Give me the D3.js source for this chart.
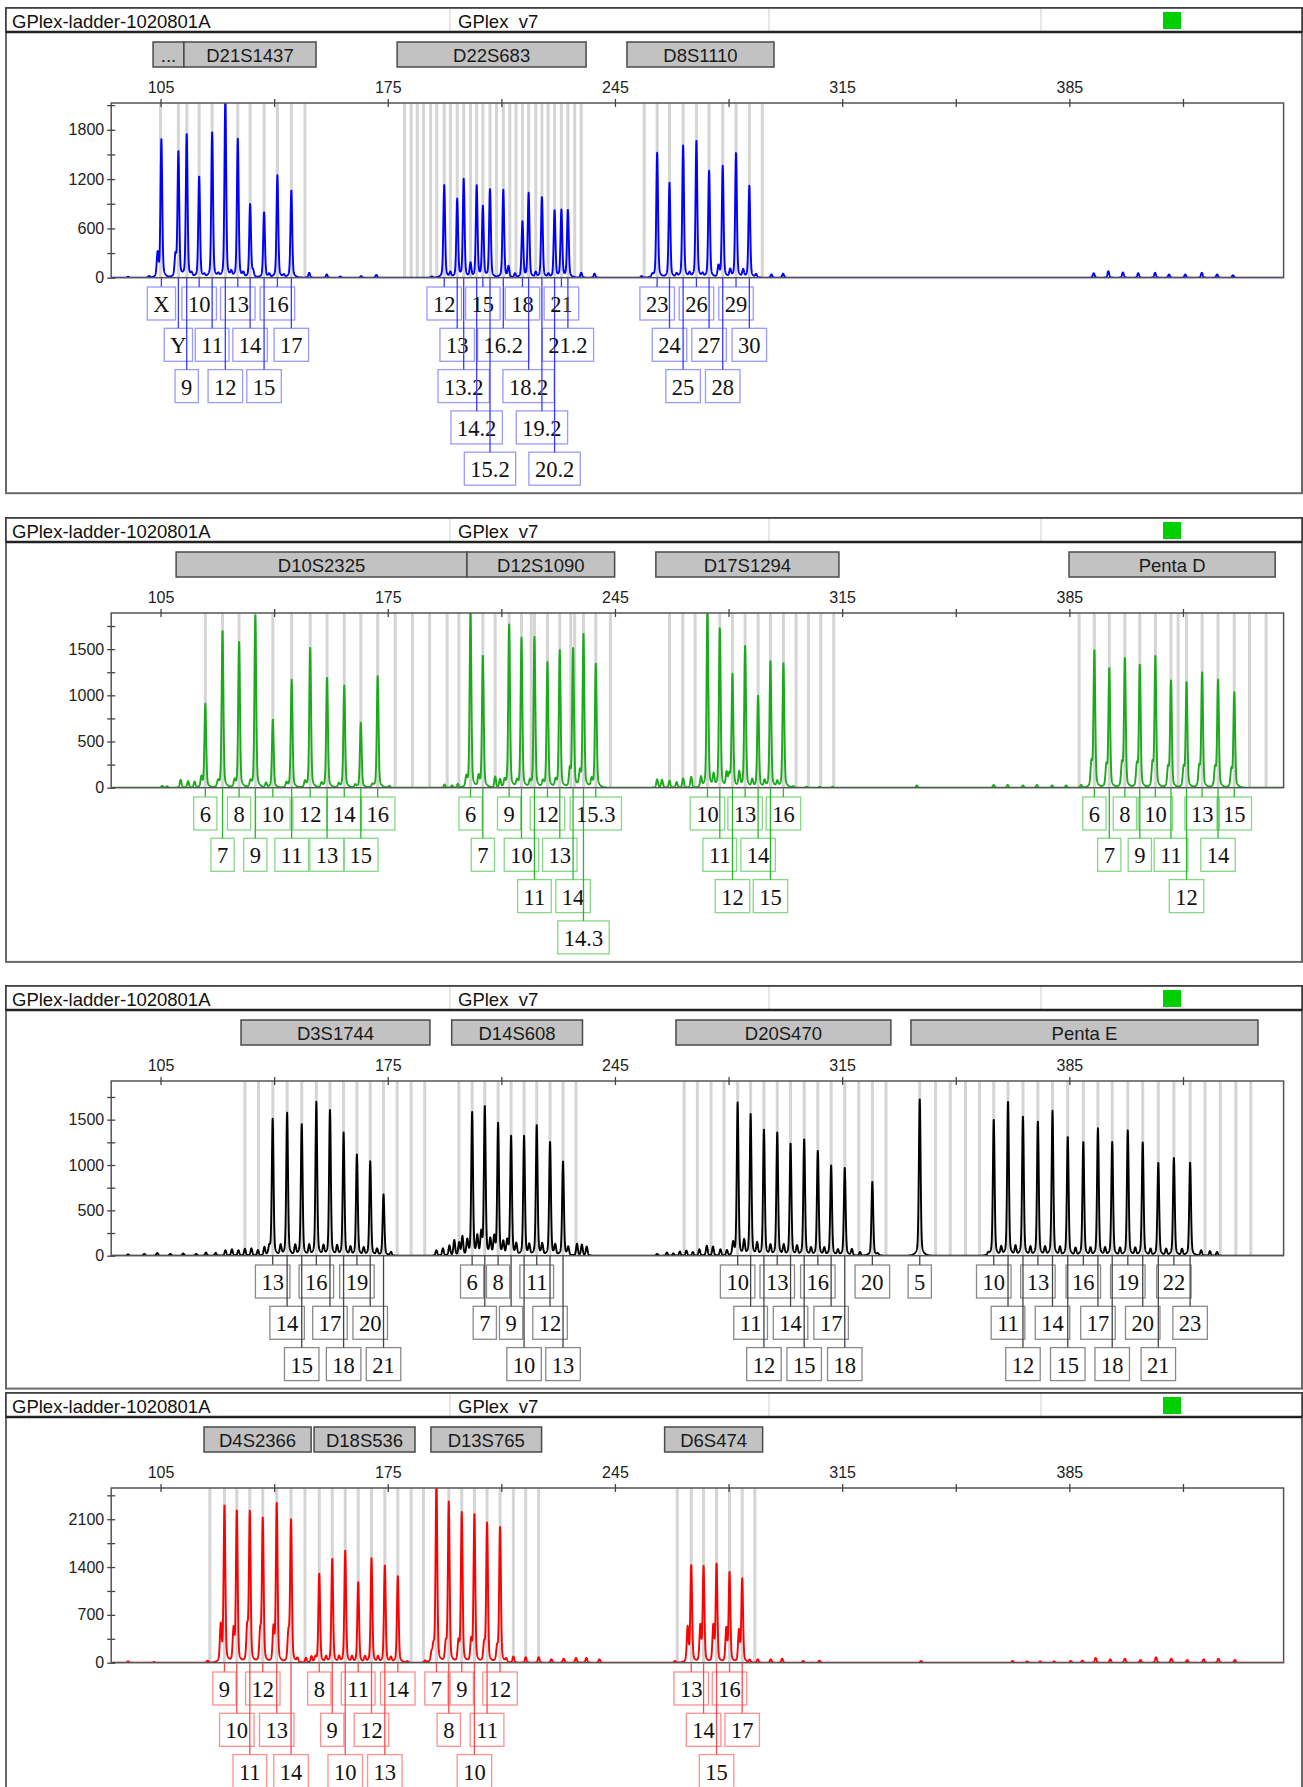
<!DOCTYPE html>
<html><head><meta charset="utf-8">
<script src="https://cdn.jsdelivr.net/npm/d3@7"></script>
<style>body{margin:0;background:#fff}svg{display:block}</style>
</head><body><svg id="c" width="1303" height="1787"></svg>
<script>
// ---------------- DATA ----------------
const sampleName = "GPlex-ladder-1020801A";
const panelName = "GPlex_v7";
const xDomain = [89.8, 451];
const xTickValues = [105,140,175,210,245,280,315,350,385,420];
const xTickLabels = [105,175,245,315,385];

const yMaxes = [2126, 1891, 1926, 2557];
const yMajorSteps = [600, 500, 500, 700];

// markers: [name, startBp, endBp]
const markers1 = [["...",102.7,112.2],["D21S1437",112.2,152.9],["D22S683",177.9,236.1],["D8S1110",248.7,294.0]];
const markers2 = [["D10S2325",109.8,199.4],["D12S1090",199.4,244.9],["D17S1294",257.6,314.0],["Penta D",384.9,448.4]];
const markers3 = [["D3S1744",129.8,188.0],["D14S608",194.7,235.0],["D20S470",263.8,330.0],["Penta E",336.2,443.1]];
const markers4 = [["D4S2366",118.4,151.4],["D18S536",152.3,183.4],["D13S765",188.3,222.4],["D6S474",260.3,290.5]];

// bins (bp)
const bins1 = [105,110.5,113.1,116.9,120.9,125,128.8,132.6,136.9,141,145.3,149.5,
 180.2,182.2,184.1,186.0,188.2,190.1,192.4,194.3,196.4,198.4,200.5,202.4,204.3,206.5,208.5,210.6,212.6,214.5,216.5,218.4,220.6,222.5,224.4,226.4,228.5,230.5,232.6,234.6,
 254,258,261.8,266,270.1,274,278.2,282.3,286.4,290.4];
const bins2 = [118.8,124.1,129.2,134.2,139.6,145.4,151.1,156.3,161.6,166.7,171.9,177.3,182.6,187.9,193.3,
 196.9,200.5,204.3,208.1,212.4,216.2,219.2,220.2,224.2,228.0,231.4,232.6,235.3,239.1,243.6,
 261.8,265.9,269.7,273.5,277.3,281.2,285.1,289.1,292.9,296.9,300.8,304.6,308.4,312.4,
 388,392.7,397.3,402.1,406.7,411.5,416.3,418.5,421.1,425.9,430.8,435.8,440.5,445.6];
const bins3 = [131.0,135.2,139.6,144.0,148.5,153.0,157.2,161.4,165.5,169.6,173.7,177.9,182.2,186.4,
 196.9,201.0,204.9,209.0,213.0,217.0,220.9,225.0,229.0,233.0,
 266.3,270.4,274.6,278.6,282.8,286.8,290.9,295.0,299.1,303.3,307.5,311.6,315.8,320.1,324.3,328.5,
 338.9,343.8,348.3,353.0,357.3,361.7,366.1,370.7,375.3,379.8,384.5,389.3,393.8,398.2,403.0,407.6,412.4,417.2,422.2,426.8,431.5,436.3,440.9];
const bins4 = [120.2,124.7,128.5,132.5,136.5,140.8,145.2,149.5,
 153.9,157.9,161.9,165.9,170.0,174.1,178.1,182.2,
 186.0,190.0,193.8,197.8,201.7,205.6,209.6,213.7,217.5,221.5,
 264.2,268.5,272.3,276.3,280.3,284.2,288.1];

// alleles: [label, sizeBp, heightRFU, labelRow]
const alleles1 = [
 ["X",105.26,1690,0],["Y",110.5,1532,1],["9",113.06,1750,2],["10",116.9,1236,0],["11",120.9,1776,1],["12",124.96,2180,2],
 ["13",128.8,1690,0],["14",132.6,892,1],["15",136.9,798,2],["16",141.0,1245,0],["17",145.3,1066,1],
 ["12",192.4,1127,0],["13",196.4,953,1],["13.2",198.4,1196,2],["14.2",202.4,1115,3],["15",204.3,864,0],["15.2",206.5,1078,4],
 ["16.2",210.6,1070,1],["18",216.5,681,0],["18.2",218.4,1026,2],["19.2",222.5,985,3],["20.2",226.4,815,4],["21",228.5,823,0],["21.2",230.5,823,1],
 ["23",258.0,1520,0],["24",261.8,1155,1],["25",266.0,1609,2],["26",270.1,1674,0],["27",274.0,1301,1],["28",278.2,1358,2],["29",282.3,1524,0],["30",286.4,1119,1]];
const alleles2 = [
 ["6",118.8,906,0],["7",124.1,1703,1],["8",129.2,1576,0],["9",134.2,1862,1],["10",139.6,736,0],["11",145.4,1167,1],
 ["12",151.1,1522,0],["13",156.3,1196,1],["14",161.6,1105,0],["15",166.7,707,1],["16",171.9,1214,0],
 ["6",200.5,1900,0],["7",204.3,1431,1],["9",212.4,1764,0],["10",216.2,1620,1],["11",220.2,1630,2],["12",224.2,1359,0],
 ["13",228.0,1486,1],["14",232.1,1511,2],["14.3",235.3,1667,3],["15.3",239.1,1348,0],
 ["10",273.5,1950,0],["11",277.3,1732,1],["12",281.2,1225,2],["13",285.1,1540,0],["14",289.1,1000,1],["15",292.9,1377,2],["16",296.9,1355,0],
 ["6",392.7,1486,0],["7",397.3,1293,1],["8",402.1,1402,0],["9",406.7,1330,1],["10",411.5,1424,0],["11",416.3,1159,1],
 ["12",421.1,1141,2],["13",425.9,1246,0],["14",430.8,1163,1],["15",435.8,1025,0]];
const alleles3 = [
 ["13",139.55,1511,0],["14",144.0,1574,1],["15",148.5,1456,2],["16",153.0,1696,0],["17",157.2,1604,1],["18",161.4,1356,2],
 ["19",165.5,1122,0],["20",169.6,1041,1],["21",173.7,678,2],
 ["6",201.0,1578,0],["7",204.9,1648,1],["8",209.0,1456,0],["9",213.0,1315,1],["10",217.0,1319,2],["11",220.9,1444,0],["12",225.0,1252,1],["13",229.0,1037,2],
 ["10",282.8,1685,0],["11",286.8,1559,1],["12",290.9,1396,2],["13",295.0,1356,0],["14",299.1,1241,1],["15",303.3,1289,2],
 ["16",307.5,1159,0],["17",311.6,993,1],["18",315.8,967,2],["20",324.3,819,0],
 ["5",338.9,1733,0],
 ["10",361.7,1504,0],["11",366.1,1704,1],["12",370.7,1541,2],["13",375.3,1485,0],["14",379.8,1596,1],["15",384.5,1315,2],
 ["16",389.3,1259,0],["17",393.8,1404,1],["18",398.2,1252,2],["19",403.0,1381,0],["20",407.6,1248,1],["21",412.4,1022,2],
 ["22",417.2,1078,0],["23",422.2,1026,1]];
const alleles4 = [
 ["9",124.7,2298,0],["10",128.5,2224,1],["11",132.5,2210,2],["12",136.5,2112,0],["13",140.8,2322,1],["14",145.2,2078,2],
 ["8",153.9,1307,0],["9",157.9,1527,1],["10",161.9,1649,2],["11",165.9,1185,0],["12",170.0,1527,1],["13",174.1,1429,2],["14",178.1,1273,0],
 ["7",190.0,2620,0],["8",193.8,2346,1],["9",197.8,2195,0],["10",201.7,2176,2],["11",205.6,2039,1],["12",209.6,1976,0],
 ["13",268.5,1420,0],["14",272.3,1405,1],["15",276.3,1439,2],["16",280.3,1317,0],["17",284.2,1220,1]];

// minor (unlabelled) peaks: [sizeBp, heightRFU]
const noise1 = [[95,12],[101.5,20],[104.1,280],[109.6,250],[114.6,40],[118.5,30],[122.8,35],[126.8,60],[130.5,50],[133.5,70],[138.5,40],[143,30],
 [150.8,60],[156.2,40],[160.4,15],[166.8,20],[171.5,35],[188.6,15],[194.3,60],[200.5,170],[212.2,130],[214.2,50],[220.6,60],[224.5,40],[234.6,60],[238.7,50],
 [253.2,20],[256.5,30],[264,40],[268,50],[272,40],[276.9,130],[280.5,90],[284.5,90],[288.5,40],[293.2,40],[296.8,50],
 [392.5,55],[397,80],[401.5,65],[406.2,55],[411.4,60],[415.7,40],[420.7,40],[425.8,60],[430.5,40],[435.4,30]];
const noise2 = [[105.5,20],[107,15],[111.2,85],[113.5,70],[115.5,65],[117.6,110],[122.7,60],[127.8,70],[132.7,60],[137.5,50],[143.8,50],[149.5,60],
 [154.6,45],[159.9,40],[165,30],[170.3,30],[175.5,20],[192.5,35],[194.8,25],[196.6,40],[199.2,100],[203,110],[208.1,120],[209.6,90],[211,70],
 [214.8,60],[218.8,60],[222.8,60],[226.7,70],[231.1,180],[234.2,150],[237.8,80],
 [258,90],[259.5,85],[261.8,75],[264,60],[266,100],[268.5,120],[271.5,110],[275.4,130],[279.4,150],[280.2,120],[283.3,160],[287.3,80],[291.1,70],[295,60],
 [300,15],[304,12],[308,10],[312,10],[338,25],[361.7,30],[366,30],[370.7,25],[375,30],[379.7,25],[384,25],[388.6,30],
 [391.8,250],[396.4,220],[401.2,240],[405.8,230],[410.6,240],[415.4,200],[420.2,200],[425.0,210],[429.9,200],[434.9,180]];
const noise3 = [[95,15],[100,20],[104,30],[108,20],[112,25],[116,20],[119,35],[122,30],[125,60],[127,70],[129,60],[131,75],[133,80],[135,60],[137,90],[138.5,80],
 [142,110],[146.5,110],[150.8,110],[155.2,100],[159.4,100],[163.5,90],[167.6,80],[171.7,70],[176,40],
 [190,60],[192,80],[194,110],[195.5,170],[197,140],[198,210],[199.5,160],[202.6,200],[203.8,230],[206.6,170],[207.8,190],[210.6,140],[211.8,150],
 [214.6,120],[218.6,110],[222.6,120],[226.6,110],[230.6,90],[233.3,130],[234.8,120],[236.3,100],
 [258,20],[261,35],[263,25],[265,45],[267,55],[269,40],[271,70],[273.3,110],[275.2,100],[277.5,70],[279.5,60],[281.4,130],
 [284.8,160],[288.8,130],[292.9,110],[297,110],[301.1,100],[305.4,80],[309.5,80],[313.7,60],[318,70],[320.5,40],[326,20],
 [360,25],[364,90],[368.4,100],[373,90],[377.5,90],[382.1,90],[386.9,80],[391.5,80],[396,80],[400.6,80],[405.3,80],[410,70],[414.8,70],[419.7,70],
 [425.6,60],[428.3,50],[430.5,40]];
const noise4 = [[95,20],[103,10],[119.5,30],[123.55,527],[127.5,454],[131.7,480],[135.7,430],[139.8,480],[144.4,400],[147.2,60],[149.8,70],[151.5,90],[152.7,70],
 [156,80],[160,80],[164,80],[168,80],[172,80],[176,70],[181,20],[186.5,30],[188.5,120],[189.1,200],[192.9,250],[196.8,280],[200.7,300],[204.7,250],[208.7,200],
 [211.5,50],[213.7,90],[217.5,80],[221.5,80],[225.4,50],[229.2,60],[233,70],[236.2,70],[240.2,50],
 [263.5,25],[267.4,500],[271.3,520],[275.3,520],[279.3,480],[283.2,450],[286.5,40],[289,50],[293,50],[296.5,60],[303,25],[308,30],
 [339.3,25],[367.5,25],[372,20],[376,20],[380.3,20],[385.4,25],[389,30],[393.1,70],[397.6,50],[402.1,60],[406.9,40],[411.7,80],[416.4,60],[421.3,40],[426.4,50],[430.9,60],[436,40]];

// ---------------- DRAWING ----------------
const SANS = "'Liberation Sans', Arial, Helvetica, sans-serif";
const SERIF = "'Liberation Serif', 'Times New Roman', serif";
const svg = d3.select("#c");
const x = d3.scaleLinear().domain(xDomain).range([111.2, 1283.6]);

const panels = [
 {top:8,    rows:5, trace:"#0000ff", line:"#3a3aff", box:"#9a9aff", markers:markers1, bins:bins1, alleles:alleles1, noise:noise1},
 {top:518,  rows:4, trace:"#1aab1a", line:"#2db52d", box:"#86d886", markers:markers2, bins:bins2, alleles:alleles2, noise:noise2},
 {top:986,  rows:3, trace:"#000000", line:"#444444", box:"#8a8a8a", markers:markers3, bins:bins3, alleles:alleles3, noise:noise3},
 {top:1393, rows:3, trace:"#ff0000", line:"#ff4a4a", box:"#ff9090", markers:markers4, bins:bins4, alleles:alleles4, noise:noise4}
];

const peakShape = (d,h)=> h*(0.86*Math.exp(-d*d/(2*0.26*0.26)) + 0.14*Math.exp(-Math.abs(d)/0.7));

panels.forEach((p,i)=>{
  const T = p.top;
  const plotTop = T+95, base = T+269.7;
  const y = d3.scaleLinear().domain([0, yMaxes[i]]).range([base, plotTop]);
  const g = svg.append("g");
  const bottom = base + 9 + p.rows*41.3;

  // outer frame
  g.append("rect").attr("x",6).attr("y",T).attr("width",1296).attr("height",bottom-T)
   .attr("fill","none").attr("stroke","#6a6a6a").attr("stroke-width",2);
  // header
  g.append("rect").attr("x",6).attr("y",T).attr("width",1296).attr("height",24)
   .attr("fill","#fff").attr("stroke","#333").attr("stroke-width",1.5);
  [450,769,1041].forEach(v=> g.append("line").attr("x1",v).attr("x2",v).attr("y1",T+1).attr("y2",T+23).attr("stroke","#cfcfcf"));
  g.append("text").attr("x",12).attr("y",T+19.5).attr("font-family",SANS).attr("font-size",18.5).attr("fill","#111").text(sampleName);
  g.append("text").attr("x",458).attr("y",T+19.5).attr("font-family",SANS).attr("font-size",18.5).attr("fill","#111").text(panelName);
  g.append("line").attr("x1",6).attr("x2",1302).attr("y1",T+24).attr("y2",T+24).attr("stroke","#222").attr("stroke-width",2.5);
  g.append("rect").attr("x",1163).attr("y",T+4).attr("width",18).attr("height",17).attr("fill","#00d000");

  // marker boxes
  p.markers.forEach(m=>{
    const x0=x(m[1]), x1=x(m[2]);
    g.append("rect").attr("x",x0).attr("y",T+34).attr("width",x1-x0).attr("height",25)
      .attr("fill","#c2c2c2").attr("stroke","#4a4a4a").attr("stroke-width",1.5);
    g.append("text").attr("x",(x0+x1)/2).attr("y",T+53.5).attr("text-anchor","middle")
      .attr("font-family",SANS).attr("font-size",18.5).attr("fill","#1a1a1a").text(m[0]);
  });

  // clip
  const cid = "clip"+i;
  svg.append("clipPath").attr("id",cid).append("rect")
    .attr("x",x.range()[0]).attr("y",plotTop).attr("width",x.range()[1]-x.range()[0]).attr("height",base-plotTop);
  const pg = g.append("g").attr("clip-path",`url(#${cid})`);

  // bins
  pg.selectAll("line.bin").data(p.bins).join("line").attr("class","bin")
    .attr("x1",d=>x(d)).attr("x2",d=>x(d)).attr("y1",plotTop).attr("y2",base)
    .attr("stroke","#d5d5d5").attr("stroke-width",3);

  // trace built from the peak list
  const peaks = p.alleles.map(a=>[a[1],a[2]]).concat(p.noise);
  const pts = [];
  for(let b=xDomain[0]; b<=xDomain[1]; b+=0.04){
    let v=0;
    for(const pk of peaks){ const d=b-pk[0]; if(d>-6 && d<6) v+=peakShape(d,pk[1]); }
    pts.push([b,v]);
  }
  pg.append("path").datum(pts).attr("fill","none").attr("stroke",p.trace).attr("stroke-width",1.9)
    .attr("stroke-linejoin","round")
    .attr("d", d3.line().x(d=>x(d[0])).y(d=>y(d[1])));

  // plot frame
  g.append("rect").attr("x",x.range()[0]).attr("y",plotTop).attr("width",x.range()[1]-x.range()[0]).attr("height",base-plotTop)
   .attr("fill","none").attr("stroke","#555").attr("stroke-width",1.5);

  // top axis
  const ax = g.append("g").attr("transform",`translate(0,${plotTop})`)
    .call(d3.axisTop(x).tickValues(xTickValues).tickSize(4).tickPadding(6)
      .tickFormat(d=> xTickLabels.includes(d) ? d : ""));
  ax.select(".domain").remove();
  ax.selectAll(".tick line").attr("y1",4).attr("y2",-4).attr("stroke","#444").attr("stroke-width",1.3);
  ax.selectAll(".tick text").attr("font-family",SANS).attr("font-size",16).attr("fill","#222");

  // left axis
  const step = yMajorSteps[i];
  const yt = d3.range(0, yMaxes[i]+1, step/2);
  const ay = g.append("g").attr("transform",`translate(${x.range()[0]},0)`)
    .call(d3.axisLeft(y).tickValues(yt).tickSize(4).tickPadding(3)
      .tickFormat(d=> d%step===0 ? d : ""));
  ay.select(".domain").remove();
  ay.selectAll(".tick line").attr("x1",4).attr("x2",-4).attr("stroke","#444").attr("stroke-width",1.3);
  ay.selectAll(".tick text").attr("font-family",SANS).attr("font-size",16).attr("fill","#222");

  // allele labels
  const lg = g.append("g");
  p.alleles.forEach(a=>{
    const cx = x(a[1]);
    const rt = base + 9.3 + a[3]*41.3;
    lg.append("line").attr("x1",cx).attr("x2",cx).attr("y1",base).attr("y2",rt)
      .attr("stroke",p.line).attr("stroke-width",1.3);
    const t = lg.append("text").attr("x",cx).attr("y",rt+25).attr("text-anchor","middle")
      .attr("font-family",SERIF).attr("font-size",22.5).attr("fill","#111").text(a[0]);
    const w = t.node().getComputedTextLength();
    lg.insert("rect","text").attr("x",cx-w/2-6).attr("y",rt).attr("width",w+12).attr("height",33)
      .attr("fill","none").attr("stroke",p.box).attr("stroke-width",1.3);
  });
});
</script>
</body></html>
